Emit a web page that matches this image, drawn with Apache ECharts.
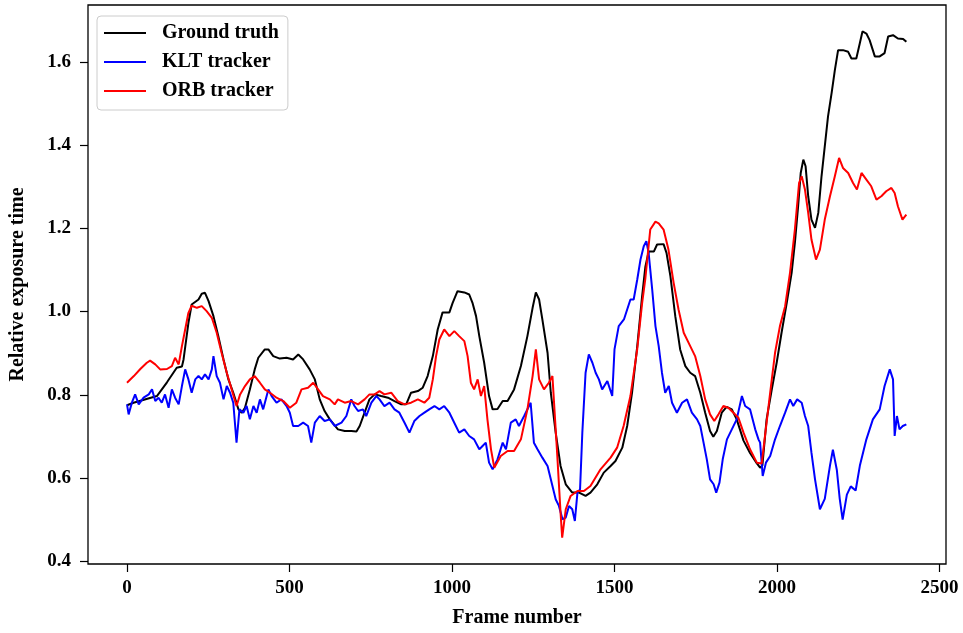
<!DOCTYPE html>
<html>
<head>
<meta charset="utf-8">
<script src="https://cdn.jsdelivr.net/npm/echarts@6/dist/echarts.min.js"></script>
<style>
html,body{margin:0;padding:0;background:#fff;}
#chart{width:963px;height:633px;}
</style>
</head>
<body>
<div id="chart"></div>
<script>
// ---- data (frame number, relative exposure time) ----
const seriesNames = ['Ground truth', 'KLT tracker', 'ORB tracker'];
const xTicks = [0, 500, 1000, 1500, 2000, 2500];
const yTicks = [0.4, 0.6, 0.8, 1.0, 1.2, 1.4, 1.6];

const groundTruth = [[0,0.775],[20,0.781],[60,0.79],[92,0.797],[123,0.83],[153,0.865],[169,0.868],[174,0.885],[189,0.973],[199,1.017],[220,1.029],[230,1.043],[240,1.045],[251,1.025],[266,0.989],[281,0.941],[297,0.885],[312,0.837],[327,0.805],[343,0.765],[353,0.757],[363,0.769],[378,0.813],[393,0.861],[404,0.889],[424,0.909],[435,0.909],[450,0.893],[470,0.887],[491,0.889],[511,0.885],[527,0.897],[542,0.885],[562,0.861],[578,0.837],[593,0.789],[608,0.761],[624,0.741],[649,0.717],[670,0.713],[690,0.713],[706,0.712],[716,0.725],[731,0.757],[746,0.789],[762,0.801],[782,0.797],[803,0.793],[823,0.785],[844,0.777],[859,0.777],[874,0.805],[895,0.809],[910,0.817],[925,0.845],[941,0.893],[956,0.957],[971,0.998],[992,0.998],[1002,1.021],[1017,1.049],[1038,1.046],[1053,1.041],[1063,1.021],[1074,0.989],[1084,0.941],[1099,0.877],[1114,0.797],[1125,0.765],[1140,0.766],[1156,0.785],[1171,0.785],[1191,0.813],[1212,0.869],[1232,0.941],[1248,1.009],[1258,1.046],[1268,1.029],[1278,0.981],[1294,0.901],[1304,0.805],[1319,0.709],[1334,0.629],[1350,0.585],[1370,0.565],[1391,0.565],[1411,0.557],[1426,0.565],[1447,0.585],[1467,0.613],[1488,0.629],[1503,0.641],[1524,0.673],[1539,0.725],[1554,0.805],[1570,0.917],[1585,1.037],[1595,1.108],[1605,1.144],[1621,1.144],[1631,1.161],[1651,1.162],[1660,1.141],[1672,1.085],[1687,0.989],[1702,0.909],[1718,0.869],[1733,0.853],[1748,0.845],[1764,0.805],[1779,0.757],[1794,0.713],[1804,0.699],[1815,0.713],[1830,0.757],[1845,0.771],[1861,0.765],[1876,0.741],[1897,0.69],[1917,0.66],[1938,0.635],[1948,0.625],[1955,0.63],[1968,0.741],[1984,0.813],[1999,0.877],[2014,0.949],[2030,1.021],[2045,1.093],[2055,1.165],[2065,1.253],[2073,1.333],[2081,1.365],[2088,1.349],[2096,1.277],[2106,1.221],[2117,1.201],[2127,1.237],[2137,1.325],[2147,1.397],[2157,1.469],[2168,1.525],[2178,1.58],[2188,1.628],[2203,1.628],[2219,1.624],[2229,1.608],[2244,1.608],[2255,1.645],[2263,1.673],[2275,1.668],[2285,1.652],[2301,1.613],[2316,1.613],[2331,1.621],[2342,1.661],[2357,1.664],[2372,1.656],[2388,1.655],[2398,1.648]];

const kltTracker = [[0,0.777],[5,0.753],[15,0.781],[25,0.801],[36,0.777],[51,0.793],[67,0.801],[77,0.813],[87,0.785],[97,0.793],[107,0.781],[117,0.801],[128,0.769],[138,0.813],[148,0.793],[159,0.777],[169,0.821],[179,0.861],[189,0.837],[199,0.805],[210,0.837],[220,0.845],[230,0.837],[240,0.849],[251,0.837],[261,0.861],[266,0.893],[276,0.845],[286,0.829],[297,0.789],[307,0.821],[317,0.805],[327,0.781],[337,0.685],[346,0.765],[358,0.757],[368,0.773],[378,0.741],[389,0.773],[399,0.757],[409,0.789],[419,0.765],[435,0.813],[445,0.797],[460,0.781],[475,0.789],[491,0.773],[501,0.757],[511,0.725],[527,0.725],[542,0.733],[557,0.725],[567,0.685],[578,0.733],[593,0.749],[608,0.737],[624,0.741],[639,0.725],[660,0.733],[675,0.749],[690,0.789],[700,0.773],[711,0.761],[726,0.765],[736,0.749],[752,0.781],[767,0.797],[777,0.789],[792,0.773],[808,0.781],[823,0.765],[838,0.757],[854,0.733],[869,0.709],[884,0.737],[900,0.749],[915,0.757],[930,0.765],[946,0.773],[961,0.765],[976,0.773],[992,0.757],[1007,0.733],[1022,0.709],[1038,0.717],[1053,0.701],[1068,0.693],[1084,0.669],[1094,0.677],[1104,0.685],[1114,0.637],[1125,0.621],[1140,0.645],[1156,0.685],[1166,0.669],[1181,0.733],[1196,0.741],[1206,0.725],[1222,0.749],[1237,0.773],[1242,0.781],[1252,0.685],[1263,0.669],[1278,0.649],[1294,0.629],[1304,0.597],[1319,0.549],[1329,0.533],[1340,0.501],[1350,0.505],[1360,0.533],[1370,0.525],[1378,0.497],[1386,0.565],[1394,0.573],[1401,0.709],[1411,0.853],[1421,0.897],[1432,0.877],[1442,0.853],[1452,0.837],[1462,0.813],[1478,0.833],[1493,0.797],[1500,0.909],[1513,0.965],[1529,0.981],[1539,1.005],[1549,1.029],[1559,1.029],[1570,1.077],[1580,1.125],[1590,1.157],[1598,1.169],[1605,1.141],[1616,1.053],[1626,0.965],[1636,0.917],[1646,0.853],[1656,0.805],[1667,0.821],[1677,0.781],[1692,0.757],[1708,0.781],[1723,0.789],[1738,0.757],[1754,0.741],[1764,0.725],[1774,0.685],[1784,0.645],[1794,0.597],[1805,0.585],[1813,0.565],[1823,0.589],[1833,0.645],[1846,0.693],[1861,0.717],[1876,0.741],[1892,0.797],[1902,0.773],[1917,0.765],[1933,0.717],[1943,0.693],[1948,0.685],[1956,0.605],[1966,0.637],[1979,0.653],[1994,0.693],[2009,0.725],[2025,0.757],[2040,0.789],[2050,0.773],[2062,0.789],[2076,0.781],[2086,0.749],[2096,0.725],[2106,0.661],[2117,0.597],[2132,0.525],[2147,0.55],[2163,0.63],[2172,0.668],[2184,0.62],[2193,0.55],[2202,0.5],[2215,0.56],[2227,0.58],[2242,0.57],[2255,0.63],[2275,0.693],[2295,0.741],[2316,0.765],[2331,0.821],[2347,0.861],[2357,0.837],[2362,0.701],[2369,0.749],[2377,0.717],[2387,0.725],[2398,0.729]];

const orbTracker = [[0,0.829],[21,0.845],[41,0.862],[61,0.877],[71,0.882],[87,0.873],[102,0.861],[123,0.862],[138,0.869],[148,0.889],[159,0.873],[169,0.917],[179,0.957],[189,0.997],[199,1.014],[215,1.009],[230,1.013],[245,1.001],[261,0.985],[276,0.949],[291,0.901],[307,0.853],[322,0.813],[337,0.773],[348,0.801],[363,0.821],[378,0.837],[393,0.845],[409,0.829],[424,0.813],[440,0.805],[460,0.793],[481,0.785],[501,0.769],[521,0.781],[537,0.813],[557,0.817],[573,0.829],[588,0.813],[603,0.797],[624,0.789],[639,0.777],[649,0.789],[670,0.781],[690,0.785],[711,0.777],[731,0.789],[746,0.801],[762,0.801],[777,0.809],[792,0.801],[813,0.805],[833,0.785],[854,0.777],[874,0.781],[895,0.789],[915,0.781],[930,0.793],[941,0.837],[951,0.893],[961,0.933],[976,0.957],[992,0.941],[1007,0.953],[1022,0.941],[1038,0.929],[1048,0.893],[1058,0.829],[1068,0.813],[1079,0.837],[1089,0.797],[1099,0.821],[1109,0.741],[1120,0.669],[1130,0.625],[1150,0.653],[1171,0.665],[1191,0.665],[1212,0.693],[1232,0.765],[1248,0.845],[1258,0.909],[1268,0.837],[1283,0.813],[1298,0.829],[1309,0.845],[1314,0.781],[1324,0.653],[1334,0.517],[1339,0.457],[1350,0.525],[1365,0.557],[1386,0.569],[1406,0.569],[1426,0.581],[1457,0.621],[1488,0.649],[1508,0.673],[1528,0.725],[1549,0.797],[1570,0.91],[1585,1.02],[1595,1.08],[1610,1.197],[1626,1.216],[1636,1.212],[1651,1.197],[1666,1.149],[1682,1.069],[1697,1.005],[1713,0.949],[1733,0.917],[1748,0.893],[1764,0.845],[1779,0.789],[1794,0.753],[1807,0.737],[1820,0.753],[1835,0.773],[1850,0.769],[1866,0.757],[1881,0.745],[1897,0.709],[1917,0.669],[1938,0.637],[1953,0.635],[1963,0.701],[1979,0.805],[1994,0.901],[2009,0.965],[2025,1.013],[2040,1.093],[2055,1.197],[2068,1.309],[2076,1.325],[2086,1.293],[2096,1.237],[2106,1.173],[2120,1.125],[2132,1.149],[2147,1.221],[2163,1.277],[2178,1.325],[2191,1.369],[2203,1.345],[2219,1.333],[2234,1.309],[2246,1.293],[2260,1.333],[2275,1.317],[2290,1.301],[2306,1.269],[2321,1.277],[2336,1.289],[2352,1.297],[2362,1.285],[2372,1.253],[2386,1.221],[2398,1.233]];

const colors = ['#000000', '#0000ff', '#ff0000'];
const FONT = 'Liberation Serif';

const chart = echarts.init(document.getElementById('chart'), null, {renderer: 'canvas'});
const lineSeries = [groundTruth, kltTracker, orbTracker].map((d, i) => ({
  name: seriesNames[i],
  type: 'line',
  data: d,
  symbol: 'none',
  showSymbol: false,
  smooth: false,
  animation: false,
  lineStyle: {color: colors[i], width: 2},
  itemStyle: {color: colors[i]},
  z: 2 + i
}));

chart.setOption({
  animation: false,
  backgroundColor: '#ffffff',
  grid: {
    left: 86, right: 17, top: 5, bottom: 68,
    show: true, borderColor: '#000', borderWidth: 1.3, backgroundColor: 'transparent'
  },
  legend: {
    data: seriesNames.map((n, i) => ({name: n, itemStyle: {color: colors[i]}})),
    orient: 'vertical',
    left: 97, top: 16,
    icon: 'rect',
    itemWidth: 42, itemHeight: 2,
    itemGap: 9,
    padding: [7, 9, 9, 7],
    backgroundColor: 'rgba(255,255,255,0.85)',
    borderColor: '#cccccc', borderWidth: 1, borderRadius: 4,
    textStyle: {fontFamily: FONT, fontWeight: 'bold', fontSize: 20, color: '#000', lineHeight: 20, padding: [0, 0, 0, 11]}
  },
  xAxis: {
    type: 'value',
    min: -120, max: 2520,
    name: 'Frame number',
    nameLocation: 'middle',
    nameGap: 44,
    nameTextStyle: {fontFamily: FONT, fontWeight: 'bold', fontSize: 20, color: '#000'},
    axisLine: {show: false, onZero: false},
    axisTick: {show: true, inside: false, length: 8, customValues: xTicks, lineStyle: {color: '#000', width: 1.2}},
    axisLabel: {show: true, customValues: xTicks, margin: 15, fontFamily: FONT, fontWeight: 'bold', fontSize: 19, color: '#000',
      formatter: v => String(Math.round(v))},
    splitLine: {show: false}
  },
  yAxis: {
    type: 'value',
    min: 0.3935, max: 1.7365,
    name: 'Relative exposure time',
    nameLocation: 'middle',
    nameRotate: 90,
    nameGap: 60,
    nameTextStyle: {fontFamily: FONT, fontWeight: 'bold', fontSize: 20, color: '#000'},
    axisLine: {show: false, onZero: false},
    axisTick: {show: true, inside: false, length: 8, customValues: yTicks, lineStyle: {color: '#000', width: 1.2}},
    axisLabel: {show: true, customValues: yTicks, margin: 17, fontFamily: FONT, fontWeight: 'bold', fontSize: 19, color: '#000',
      formatter: v => Number(v).toFixed(1)},
    splitLine: {show: false}
  },
  series: lineSeries
});
</script>
</body>
</html>
